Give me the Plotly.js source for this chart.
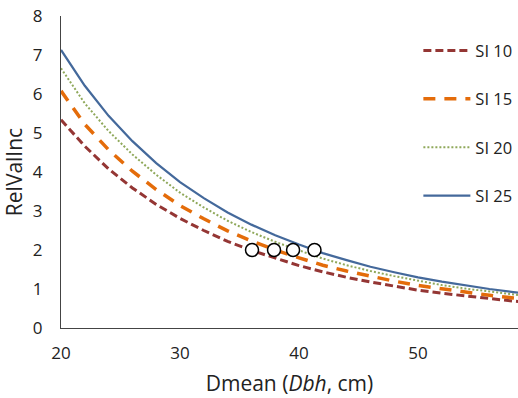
<!DOCTYPE html>
<html>
<head>
<meta charset="utf-8">
<script src="https://cdn.plot.ly/plotly-3.0.1.min.js"></script>
<style>
html,body{margin:0;padding:0;background:#fff;}
#chart{width:518px;height:398px;}
</style>
</head>
<body>
<div id="chart"></div>
<script>
// Dmean (cm)
const dmean = [20,22,24,26,28,30,32,34,36,38,40,42,44,46,48,50,52,54,56,58,60];
// RelValInc per site index
const si10 = [5.34,4.66,4.08,3.59,3.17,2.81,2.50,2.22,1.99,1.79,1.60,1.44,1.30,1.18,1.07,0.97,0.89,0.82,0.75,0.69,0.64];
const si15 = [6.08,5.22,4.57,4.02,3.55,3.14,2.80,2.49,2.23,2.00,1.80,1.61,1.46,1.32,1.20,1.09,1.00,0.92,0.84,0.77,0.71];
const si20 = [6.66,5.76,5.05,4.45,3.93,3.47,3.09,2.75,2.46,2.21,1.99,1.78,1.61,1.46,1.33,1.21,1.10,1.01,0.93,0.85,0.79];
const si25 = [7.13,6.21,5.44,4.79,4.23,3.74,3.33,2.96,2.65,2.38,2.14,1.92,1.74,1.57,1.43,1.30,1.19,1.09,1.00,0.92,0.85];
// crossing points at RelValInc = 2
const crossX = [36.05,37.9,39.5,41.3];
const crossY = [2,2,2,2];
const seriesNames = ["SI 10","SI 15","SI 20","SI 25"];
const xTicks = [20,30,40,50];
const yTicks = [0,1,2,3,4,5,6,7,8];

const FONT = "Open Sans, Liberation Sans, sans-serif";

const traces = [
  {x:dmean, y:si10, name:seriesNames[0], mode:"lines", legendgroup:"a",
   line:{color:"#943634", width:3, dash:"8px,4px"}},
  {x:dmean, y:si15, name:seriesNames[1], mode:"lines", legendgroup:"b",
   line:{color:"#E46C0A", width:3.5, dash:"12px,9px"}},
  {x:dmean, y:si20, name:seriesNames[2], mode:"lines", legendgroup:"c",
   line:{color:"#8FA85A", width:2, dash:"2px,2px"}},
  {x:dmean, y:si25, name:seriesNames[3], mode:"lines", legendgroup:"d",
   line:{color:"#44699B", width:2.25}},
  {x:crossX, y:crossY, mode:"markers", showlegend:false, cliponaxis:false,
   marker:{symbol:"circle", size:13, color:"#ffffff", line:{color:"#000000", width:1.5}}}
];

const layout = {
  width:518, height:398,
  margin:{l:61, r:0, t:16, b:70},
  paper_bgcolor:"#ffffff", plot_bgcolor:"#ffffff",
  font:{family:FONT, size:16, color:"#222"},
  xaxis:{
    range:[20,58.4], tickvals:xTicks, ticktext:xTicks.map(String),
    showgrid:false, zeroline:false, showline:true, linecolor:"#444", linewidth:1,
    ticks:"", ticklabelstandoff:10, tickfont:{size:17, color:"#222"},
    title:{text:"Dmean (<i>Dbh</i>, cm)", font:{size:21, color:"#222"}, standoff:12}
  },
  yaxis:{
    range:[0,8], tickvals:yTicks, ticktext:yTicks.map(String),
    showgrid:false, zeroline:false, showline:true, linecolor:"#444", linewidth:1,
    ticks:"", ticklabelstandoff:14, tickfont:{size:17, color:"#222"},
    title:{text:"RelValInc", font:{size:21, color:"#222"}, standoff:8}
  },
  showlegend:true,
  legend:{x:0.782, xanchor:"left", y:0.945, yanchor:"top", bgcolor:"rgba(0,0,0,0)",
          font:{size:16.5, color:"#222"}, tracegroupgap:24, traceorder:"grouped",
          itemwidth:47}
};

Plotly.newPlot("chart", traces, layout, {displayModeBar:false, staticPlot:true});
</script>
</body>
</html>
